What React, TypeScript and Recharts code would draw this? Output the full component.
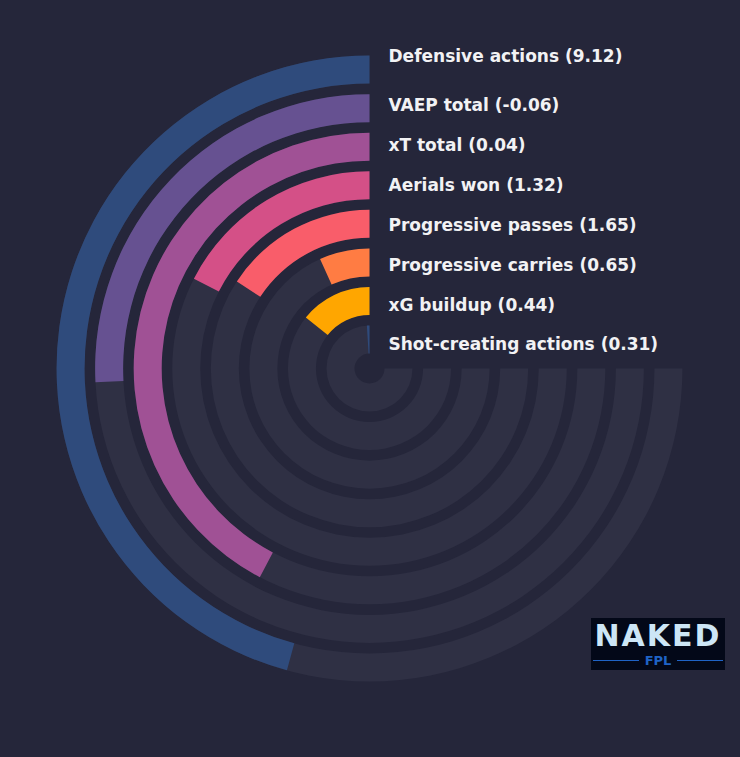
import React from "react";
import { RadialBarChart, RadialBar, PolarAngleAxis, LabelList } from "recharts";

// innermost ring first
const metrics = [
  "Shot-creating actions",
  "xG buildup",
  "Progressive carries",
  "Progressive passes",
  "Aerials won",
  "xT total",
  "VAEP total",
  "Defensive actions",
];
const per90 = [0.31, 0.44, 0.65, 1.65, 1.32, 0.04, -0.06, 9.12];
const percentile = [1.3, 19, 9, 21, 23.3, 56.4, 34.4, 61];
const colors = ["#2f4b7c", "#ffa600", "#ff7c43", "#f95d6a", "#d45087", "#a05195", "#665191", "#2f4b7c"];

const BG = "#25263a";
const TRACK = "#2f3044";

const data = metrics.map((m, i) => ({
  name: m,
  pct: percentile[i],
  label: `${m} (${per90[i].toFixed(2)})`,
  fill: colors[i],
}));

function RingLabel(props: any) {
  const vb = props.viewBox || {};
  const cx = vb.cx ?? 370;
  const cy = vb.cy ?? 370;
  const r = ((vb.innerRadius ?? 0) + (vb.outerRadius ?? 0)) / 2;
  const i = props.index ?? 0;
  // labels sit on a slightly wider grid than the rings; the outer one higher still
  const shift = 5 - 1.3 * i + (i === metrics.length - 1 ? -9 : 0);
  return (
    <text
      x={cx + 19}
      y={cy - r + shift}
      dy="0.35em"
      fill="#f2f2f4"
      fontSize={17}
      fontWeight="bold"
      fontFamily="DejaVu Sans, sans-serif"
    >
      {props.value}
    </text>
  );
}

export default function App() {
  return (
    <div
      style={{
        position: "fixed",
        top: 0,
        left: 0,
        width: 740,
        height: 757,
        background: BG,
        overflow: "hidden",
      }}
    >
      <RadialBarChart
        width={740}
        height={757}
        cx={369.5}
        cy={368.5}
        innerRadius={10}
        outerRadius={318.5}
        barSize={28}
        startAngle={90}
        endAngle={360}
        data={data}
        margin={{ top: 0, right: 0, bottom: 0, left: 0 }}
      >
        <PolarAngleAxis type="number" domain={[0, 100]} tick={false} axisLine={false} />
        <RadialBar
          dataKey="pct"
          background={{ fill: TRACK }}
          isAnimationActive={false}
        >
          <LabelList dataKey="label" content={<RingLabel />} />
        </RadialBar>
      </RadialBarChart>

      {/* logo */}
      <div
        style={{
          position: "absolute",
          left: 591,
          top: 618,
          width: 134,
          height: 52,
          background: "#030818",
          fontFamily: "DejaVu Sans, sans-serif",
        }}
      >
        <div
          style={{
            position: "absolute",
            left: 0,
            top: 3,
            width: 134,
            textAlign: "center",
            color: "#cde6f6",
            fontWeight: "bold",
            fontSize: 30,
            lineHeight: "30px",
            letterSpacing: 2,
          }}
        >
          NAKED
        </div>
        <div
          style={{
            position: "absolute",
            left: 0,
            top: 36,
            width: 134,
            display: "flex",
            alignItems: "center",
            justifyContent: "center",
            gap: 6,
            color: "#1f63c6",
            fontWeight: "bold",
            fontSize: 13,
            lineHeight: "13px",
          }}
        >
          <span style={{ width: 46, height: 1, background: "#1f63c6" }} />
          FPL
          <span style={{ width: 46, height: 1, background: "#1f63c6" }} />
        </div>
      </div>
    </div>
  );
}
